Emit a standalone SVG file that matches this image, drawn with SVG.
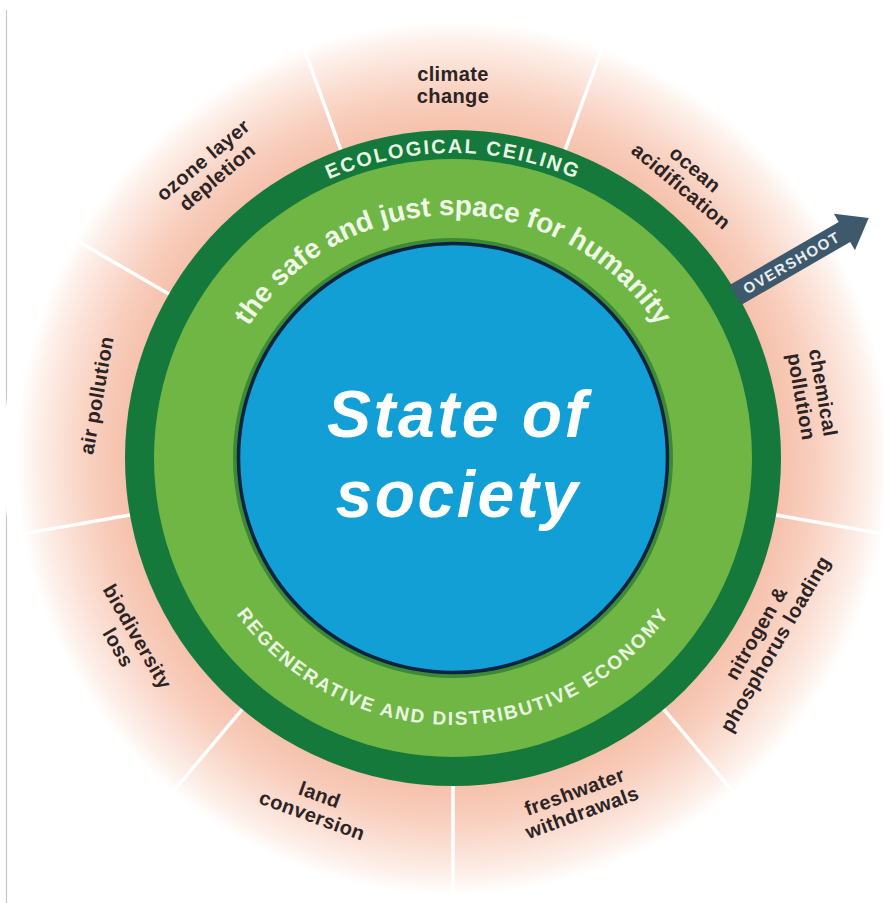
<svg xmlns="http://www.w3.org/2000/svg" width="884" height="903" viewBox="0 0 884 903">
  <defs>
    <radialGradient id="glow" gradientUnits="userSpaceOnUse" cx="453" cy="458" r="450">
      <stop offset="0.72" stop-color="#f5c0aa"/>
      <stop offset="0.80" stop-color="#f8cebd"/>
      <stop offset="0.87" stop-color="#fbe0d5"/>
      <stop offset="0.93" stop-color="#fdf1eb"/>
      <stop offset="0.97" stop-color="#ffffff"/>
    </radialGradient>
    <path id="arcCeiling" d="M 148 458 A 305 305 0 0 1 758 458"/>
    <path id="arcSafe" d="M 210 458 A 243 243 0 0 1 696 458"/>
    <path id="arcRegen" d="M 186 458 A 267 267 0 0 0 720 458"/>
    <style>
      .lbl { font-family: "Liberation Sans", Arial, sans-serif; font-weight: bold; font-size: 20px; fill: #2c2424; text-anchor: middle; letter-spacing: 0.4px; }
      .div { stroke: #ffffff; stroke-width: 3.5; stroke-linecap: round; }
      .ring { font-family: "Liberation Sans", Arial, sans-serif; font-weight: bold; text-anchor: middle; }
    </style>
  </defs>

  <rect width="884" height="903" fill="#ffffff"/>
  <line x1="6.5" y1="10" x2="6.5" y2="903" stroke="#c9c9c9" stroke-width="1.2"/>

  <!-- outer glow -->
  <circle cx="453" cy="458" r="450" fill="url(#glow)"/>

  <!-- dividers -->
  <g id="connectors">
    <line class="div" x1="565.2" y1="149.8" x2="603.5" y2="44.5"/>
    <line class="div" x1="776.0" y1="515.0" x2="886.3" y2="534.4"/>
    <line class="div" x1="663.8" y1="709.3" x2="735.8" y2="795.0"/>
    <line class="div" x1="453" y1="786" x2="453" y2="898"/>
    <line class="div" x1="242.2" y1="709.3" x2="170.2" y2="795.0"/>
    <line class="div" x1="130.0" y1="515.0" x2="19.7" y2="534.4"/>
    <line class="div" x1="169.0" y1="294.0" x2="72.0" y2="238.0"/>
    <line class="div" x1="340.8" y1="149.8" x2="302.5" y2="44.5"/>
  </g>

  <!-- rings -->
  <g id="ecological-ceiling">
    <circle cx="453" cy="458" r="328" fill="#14793a"/>
    <text class="ring" font-size="20" fill="#e8f5e4" letter-spacing="2"><textPath href="#arcCeiling" startOffset="50%">ECOLOGICAL CEILING</textPath></text>
  </g>
  <g id="safe-just-space">
    <circle cx="453" cy="458" r="299" fill="#6fb644"/>
    <text class="ring" font-size="28" fill="#eef8e6"><textPath href="#arcSafe" startOffset="50%">the safe and just space for humanity</textPath></text>
    <text class="ring" font-size="19" fill="#eaf6e2" letter-spacing="1.9"><textPath href="#arcRegen" startOffset="50%">REGENERATIVE AND DISTRIBUTIVE ECONOMY</textPath></text>
  </g>
  <g id="state-of-society">
    <circle cx="453" cy="458" r="220" fill="#3d8a36"/>
    <circle cx="453" cy="458" r="214.5" fill="#129fd6" stroke="#0b2340" stroke-width="3.5"/>
    <text x="458" y="437" font-family="'Liberation Sans', Arial, sans-serif" font-weight="bold" font-style="italic" font-size="66" fill="#ffffff" text-anchor="middle" letter-spacing="2.5">State of</text>
    <text x="458" y="517" font-family="'Liberation Sans', Arial, sans-serif" font-weight="bold" font-style="italic" font-size="66" fill="#ffffff" text-anchor="middle" letter-spacing="2.5">society</text>
  </g>

  <!-- overshoot arrow -->
  <g id="overshoot" transform="translate(453 458) rotate(-30)">
    <polygon points="326,-11.5 452,-11.5 452,-21 480,0 452,21 452,11.5 326,11.5" fill="#3d596b"/>
    <text x="391" y="5.5" font-family="'Liberation Sans', Arial, sans-serif" font-weight="bold" font-size="15" fill="#e8eef2" text-anchor="middle" letter-spacing="1.5">OVERSHOOT</text>
  </g>

  <!-- labels -->
  <g id="climate-change" transform="translate(453 85)">
    <text class="lbl" x="0" y="-4">climate</text>
    <text class="lbl" x="0" y="18">change</text>
  </g>
  <g id="ocean-acidification" transform="translate(688.3 177.6) rotate(40)">
    <text class="lbl" x="0" y="-4">ocean</text>
    <text class="lbl" x="0" y="18">acidification</text>
  </g>
  <g id="chemical-pollution" transform="translate(812.5 394.6) rotate(80)">
    <text class="lbl" x="0" y="-4">chemical</text>
    <text class="lbl" x="0" y="18">pollution</text>
  </g>
  <g id="nitrogen-phosphorus-loading" transform="translate(765.6 638.5) rotate(-60)">
    <text class="lbl" x="0" y="-4">nitrogen &amp;</text>
    <text class="lbl" x="0" y="18">phosphorus loading</text>
  </g>
  <g id="freshwater-withdrawals" transform="translate(578.2 801.9) rotate(-20)">
    <text class="lbl" x="0" y="-4">freshwater</text>
    <text class="lbl" x="0" y="18">withdrawals</text>
  </g>
  <g id="land-conversion" transform="translate(316 805) rotate(20)">
    <text class="lbl" x="0" y="-4">land</text>
    <text class="lbl" x="0" y="18">conversion</text>
  </g>
  <g id="biodiversity-loss" transform="translate(128 642) rotate(60)">
    <text class="lbl" x="0" y="-4">biodiversity</text>
    <text class="lbl" x="0" y="18">loss</text>
  </g>
  <g id="air-pollution" transform="translate(96.5 395.2) rotate(-80)">
    <text class="lbl" x="0" y="7">air pollution</text>
  </g>
  <g id="ozone-layer-depletion" transform="translate(210 168.4) rotate(-40)">
    <text class="lbl" x="0" y="-4">ozone layer</text>
    <text class="lbl" x="0" y="18">depletion</text>
  </g>
</svg>
